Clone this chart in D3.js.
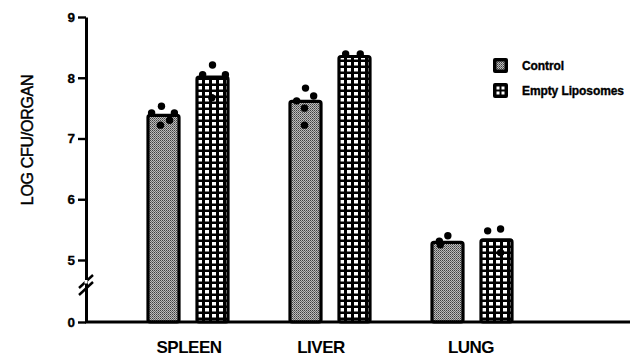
<!DOCTYPE html>
<html><head><meta charset="utf-8">
<script src="https://cdn.jsdelivr.net/npm/d3@7"></script>
<style>body{margin:0;background:#fff}svg{display:block}</style>
</head><body>
<script>
const categories = ["SPLEEN", "LIVER", "LUNG"];
const seriesNames = ["Control", "Empty Liposomes"];
const controlValues = [7.38, 7.61, 5.29];
const liposomeValues = [8.01, 8.35, 5.33];
const yTickValues = [0, 5, 6, 7, 8, 9];
const yLabel = "LOG CFU/ORGAN";
// individual animal points (log CFU) per category
const controlPoints = [[7.42, 7.53, 7.42, 7.22, 7.30], [7.83, 7.70, 7.62, 7.50, 7.22], [5.31, 5.40, 5.25]];
const liposomePoints = [[8.21, 8.05, 8.05, 7.67], [8.39, 8.39], [5.48, 5.51, 5.12]];
// horizontal jitter of each point inside its bar (fraction of bar width)
const controlJitter = [[0.15, 0.44, 0.82, 0.41, 0.68], [0.5, 0.74, 0.24, 0.47, 0.47], [0.26, 0.51, 0.29]];
const liposomeJitter = [[0.5, 0.21, 0.88, 0.48], [0.24, 0.67], [0.24, 0.62, 0.62]];

const W = 636, H = 356;
const FONT = "Liberation Sans, Arial, Helvetica, sans-serif";
const svg = d3.select("body").append("svg").attr("width", W).attr("height", H);
const defs = svg.append("defs");

// stipple halftone pattern (Control)
const p1 = defs.append("pattern").attr("id", "stip").attr("patternUnits", "userSpaceOnUse").attr("width", 2).attr("height", 2);
p1.append("rect").attr("width", 2).attr("height", 2).attr("fill", "#bcbcbc");
p1.append("rect").attr("width", 1).attr("height", 1).attr("fill", "#404040");
p1.append("rect").attr("x", 1).attr("y", 1).attr("width", 1).attr("height", 1).attr("fill", "#6a6a6a");
// grid pattern (Empty liposomes)
const p2 = defs.append("pattern").attr("id", "grid").attr("patternUnits", "userSpaceOnUse").attr("width", 7).attr("height", 6);
p2.append("rect").attr("width", 7).attr("height", 6).attr("fill", "#000");
p2.append("rect").attr("x", 3).attr("y", 2).attr("width", 4).attr("height", 3.5).attr("fill", "#fff");

const fills = ["url(#stip)", "url(#grid)"];

const y = d3.scaleLinear().domain([0, 5, 9]).range([322, 260, 17]);
const x0 = d3.scalePoint().domain(categories).range([188, 472]);
const x1 = d3.scaleBand().domain(seriesNames).range([-41.5, 41.5]).paddingInner(0.306);

const data = categories.map((c, i) => ({
  cat: c,
  bars: [
    {s: seriesNames[0], v: controlValues[i], pts: controlPoints[i], jit: controlJitter[i], fill: fills[0]},
    {s: seriesNames[1], v: liposomeValues[i], pts: liposomePoints[i], jit: liposomeJitter[i], fill: fills[1]}
  ]
}));

const g = svg.append("g");
const groups = g.selectAll("g.grp").data(data).join("g").attr("class", "grp")
  .attr("transform", d => `translate(${x0(d.cat)},0)`);
const bars = groups.selectAll("g.bar").data(d => d.bars).join("g").attr("class", "bar");
bars.append("rect")
  .attr("x", d => x1(d.s) + 1.5)
  .attr("y", d => y(d.v))
  .attr("width", x1.bandwidth() - 3)
  .attr("height", d => y(0) - y(d.v))
  .attr("rx", 2)
  .attr("fill", d => d.fill)
  .attr("stroke", "#000").attr("stroke-width", 3.2);
bars.selectAll("circle").data(d => d.pts.map((v, k) => ({v, j: d.jit[k], s: d.s})))
  .join("circle")
  .attr("cx", d => x1(d.s) + d.j * x1.bandwidth())
  .attr("cy", d => y(d.v))
  .attr("r", 3.7)
  .attr("fill", "#000");

// Y axis
const yAxis = d3.axisLeft(y).tickValues(yTickValues).tickSize(8).tickSizeOuter(0).tickPadding(3).tickFormat(d3.format("d"));
const ya = svg.append("g").attr("transform", "translate(86,0)").call(yAxis);
ya.select(".domain").attr("stroke-width", 3);
ya.selectAll(".tick line").attr("stroke-width", 2.4);
ya.selectAll(".tick text").attr("font-family", FONT).attr("font-weight", "bold").attr("font-size", 13.5)
  .attr("fill", "#000").attr("stroke", "#000").attr("stroke-width", 0.3);

// axis break
const brk = svg.append("g").attr("stroke", "#000").attr("stroke-width", 2.4);
[281, 288].forEach(yy => brk.append("line").attr("x1", 79).attr("y1", yy + 7).attr("x2", 93).attr("y2", yy - 6));
svg.append("rect").attr("x", 84.5).attr("y", 280).attr("width", 3).attr("height", 3.5).attr("fill", "#fff");

// X axis
const xAxisScale = d3.scaleLinear().domain([0, 1]).range([85, 630]);
svg.append("line").attr("x1", xAxisScale(0)).attr("x2", xAxisScale(1)).attr("y1", y(0)).attr("y2", y(0))
  .attr("stroke", "#000").attr("stroke-width", 3);
const labelDx = [1, -9, -1];
svg.selectAll("text.cat").data(categories).join("text").attr("class", "cat")
  .attr("x", (d, i) => x0(d) + labelDx[i]).attr("y", 353)
  .attr("text-anchor", "middle")
  .attr("font-family", FONT).attr("font-weight", "bold").attr("font-size", 17).attr("letter-spacing", -0.5)
  .attr("fill", "#000").text(d => d);

// Y label
svg.append("text").attr("transform", "translate(33,140) rotate(-90)")
  .attr("text-anchor", "middle")
  .attr("font-family", FONT).attr("font-size", 16).attr("letter-spacing", -0.3)
  .attr("fill", "#000").attr("stroke", "#000").attr("stroke-width", 0.45).text(yLabel);

// Legend
const leg = svg.append("g").attr("transform", "translate(493,58)");
seriesNames.forEach((s, i) => {
  const row = leg.append("g").attr("transform", `translate(0,${i * 25})`);
  row.append("rect").attr("x", 0).attr("y", 0).attr("width", 15).attr("height", 15).attr("rx", 2).attr("fill", "#000");
  if (i === 0) {
    row.append("rect").attr("x", 3.5).attr("y", 3.5).attr("width", 8).attr("height", 8).attr("fill", fills[0]);
  } else {
    [[3.5, 3.5], [8.5, 3.5], [3.5, 8.5], [8.5, 8.5]].forEach(([a, b]) =>
      row.append("rect").attr("x", a).attr("y", b).attr("width", 3).attr("height", 3).attr("fill", "#fff"));
  }
  row.append("text").attr("x", 29).attr("y", 12)
    .attr("font-family", FONT).attr("font-weight", "bold").attr("font-size", 12).attr("letter-spacing", -0.1)
    .attr("fill", "#000").attr("stroke", "#000").attr("stroke-width", 0.35).text(s);
});
</script>
</body></html>
